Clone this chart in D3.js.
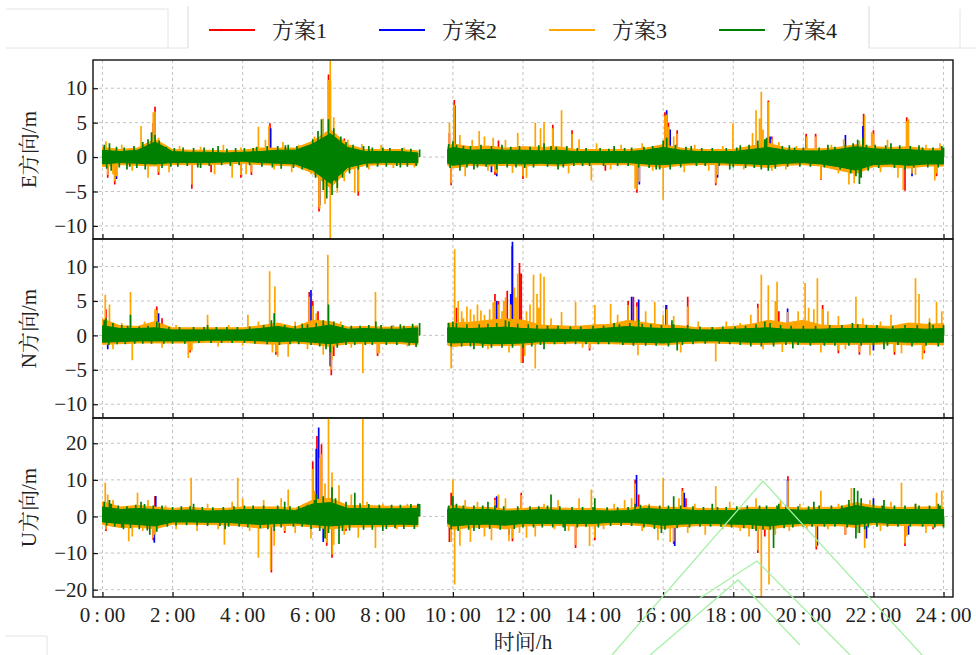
<!DOCTYPE html>
<html>
<head>
<meta charset="utf-8">
<script src="https://cdn.jsdelivr.net/npm/d3@7"></script>
<style>
body { margin: 0; background: #fff; }
svg text { font-family: "Liberation Serif", "Noto Serif CJK SC", "Noto Sans CJK SC", serif; fill: #222; }
</style>
</head>
<body>
<svg id="chart" width="976" height="655"></svg>
<script>

// ---- data ----
var schemes = ["方案1", "方案2", "方案3", "方案4"];
var hourTicks = [0, 2, 4, 6, 8, 10, 12, 14, 16, 18, 20, 22, 24];
var hourLabels = ["0:00", "2:00", "4:00", "6:00", "8:00", "10:00", "12:00", "14:00", "16:00", "18:00", "20:00", "22:00", "24:00"];

// core envelope of each dense series, every half hour (no data 9.0 - 9.85 h)
var bandT = [0, 0.5, 1, 1.5, 2, 2.5, 3, 3.5, 4, 4.5, 5, 5.5, 6, 6.5, 7, 7.5, 8, 8.5, 9,
    9.85, 10, 10.5, 11, 11.5, 12, 12.5, 13, 13.5, 14, 14.5, 15, 15.5, 16, 16.5, 17, 17.5, 18, 18.5, 19, 19.5, 20, 20.5, 21, 21.5, 22, 22.5, 23, 23.5, 24];

// E
var eGreenHi = [1.0, 0.8, 1.0, 2.2, 0.8, 0.7, 0.7, 0.6, 0.7, 0.8, 1.0, 1.0, 1.9, 3.4, 1.4, 0.8, 0.8, 0.8, 0.6,
    1.1, 1.4, 1.0, 1.1, 1.0, 1.0, 0.9, 1.0, 0.8, 0.8, 0.8, 0.8, 1.0, 1.4, 1.0, 0.8, 0.8, 0.8, 1.1, 1.4, 1.0, 0.9, 0.9, 1.1, 1.5, 1.2, 1.1, 1.1, 0.9, 0.9];
var eGreenLo = [-1.0, -0.8, -0.9, -1.0, -0.8, -0.8, -0.8, -0.7, -0.6, -0.8, -0.9, -1.0, -1.9, -3.8, -1.5, -0.9, -0.8, -0.8, -0.8,
    -0.9, -1.2, -0.9, -1.0, -0.9, -1.0, -0.9, -1.0, -0.8, -0.8, -0.8, -0.8, -1.0, -1.1, -0.9, -0.8, -0.8, -0.9, -1.0, -1.1, -0.9, -0.8, -1.0, -1.4, -1.9, -1.1, -1.0, -1.2, -1.0, -1.0];
var eOrangeHi = [1.4, 1.1, 1.3, 2.6, 1.1, 1.0, 1.0, 0.9, 1.0, 1.3, 1.3, 1.3, 2.3, 4.0, 1.8, 1.1, 1.1, 1.1, 0.9,
    1.5, 1.9, 1.5, 1.6, 1.3, 1.5, 1.4, 1.5, 1.1, 1.1, 1.1, 1.1, 1.3, 1.8, 1.3, 1.1, 1.1, 1.1, 1.6, 2.0, 1.3, 1.2, 1.2, 1.4, 1.8, 1.5, 1.4, 1.5, 1.2, 1.2];
var eOrangeLo = [-1.4, -1.1, -1.2, -1.3, -1.1, -1.1, -1.1, -1.0, -0.9, -1.1, -1.2, -1.3, -2.3, -4.5, -1.9, -1.2, -1.1, -1.1, -1.1,
    -1.2, -1.6, -1.2, -1.3, -1.2, -1.3, -1.2, -1.3, -1.1, -1.1, -1.1, -1.1, -1.3, -1.5, -1.2, -1.1, -1.1, -1.2, -1.3, -1.5, -1.2, -1.1, -1.3, -1.9, -2.4, -1.4, -1.4, -1.6, -1.3, -1.3];
// single excursions [hour, value]
var eSpikes1 = [[0.15, -3.0], [0.35, -4.0], [1.5, 7.3], [1.45, 5.0], [1.6, -2.6], [2.55, -4.6], [3.1, -2.2], [3.95, -3.0], [4.78, 4.9], [4.25, -2.6],
    [6.18, -7.9], [6.45, 12], [6.65, 3.4], [6.9, 2.7], [7.3, -5.6], [9.9, 3.5], [10.04, 8.3], [9.95, -4.1], [11.2, -2.6], [11.3, 2.4],
    [12.85, 4.7], [12.0, -3.2], [13.4, 3.9], [14.35, -2.0], [15.25, -5.2], [16.05, 6.5], [16.15, 5.0], [16.4, 3.9], [17.5, -4.1], [19.0, 8.2],
    [19.1, 3.0], [20.08, 3.4], [20.35, 3.4], [20.5, -3.3], [21.72, 6.3], [22.0, 3.9], [22.9, -4.9], [22.95, 5.8], [23.8, -2.8]];
var eSpikes2 = [[1.48, 6.2], [0.4, -3.2], [4.8, 4.2], [6.2, -7.0], [6.5, 11], [10.06, 7.5], [11.25, -2.8], [11.1, -2.2], [15.32, -4.0], [16.1, 6.8],
    [16.2, 4.0], [19.05, 3.0], [21.2, 3.2], [21.7, 4.5], [23.1, -2.8], [17.55, -3.0]];
var eSpikes3 = [[0.1, 2.3], [0.3, -2.5], [0.55, 1.8], [0.85, -2.0], [1.1, 4.5], [1.3, -3.0], [1.45, 6.5], [1.6, 2.8], [1.9, -2.2], [2.2, 1.6],
    [2.55, -4.0], [2.8, 1.5], [3.2, -2.5], [3.45, 1.8], [3.7, -3.0], [3.95, 1.4], [4.1, -2.5], [4.45, 4.4], [4.65, 2.5], [4.75, 4.6],
    [4.9, -1.8], [5.15, 2.2], [5.4, -2.2], [5.6, 1.8], [5.95, -2.5], [6.05, 3.0], [6.2, -7.5], [6.3, 5.6], [6.35, -6.8], [6.5, 14],
    [6.5, -12], [6.6, 5.8], [6.7, -5.2], [6.75, 2.8], [6.9, -3.5], [7.0, 2.5], [7.2, -5.2], [7.4, 1.9], [7.6, -1.8], [7.95, 1.8],
    [8.3, -1.6], [8.6, 1.4], [8.9, -1.5],
    [9.9, 5.0], [9.95, -3.8], [10.05, 7.5], [10.2, 3.2], [10.35, -2.8], [10.55, 2.5], [10.75, 3.8], [10.9, 3.0], [11.0, -2.0], [11.15, 2.8],
    [11.5, 2.5], [11.7, -2.3], [11.85, 3.5], [12.1, -3.0], [12.35, 5.0], [12.5, 4.2], [12.6, 5.1], [12.85, 3.5], [13.1, 6.8], [13.3, -2.4],
    [13.6, 2.6], [13.95, -3.4], [14.1, 2.0], [14.5, -1.8], [14.8, 1.8], [15.2, -4.6], [15.4, 2.0], [15.7, -2.0], [16.0, -6.2], [16.05, 4.0],
    [16.3, 3.0], [16.6, -2.2], [16.9, 1.8], [17.3, -2.0], [17.5, -3.8], [17.7, 1.6], [17.99, 4.9], [18.3, -1.8], [18.55, 3.5], [18.65, 6.8],
    [18.75, 5.6], [18.8, 9.5], [18.85, 4.0], [19.0, 8.0], [19.1, -2.0], [19.3, 2.2], [19.5, -1.8], [19.8, 1.6], [20.1, 3.0], [20.35, 2.5],
    [20.5, -3.2], [20.8, 1.8], [21.0, -2.4], [21.15, 2.6], [21.3, -4.0], [21.45, -3.8], [21.6, 2.4], [21.75, 6.0], [21.95, 3.6], [22.2, -2.2],
    [22.4, 2.5], [22.7, -3.0], [22.85, -4.8], [23.0, 5.5], [23.2, -2.6], [23.5, 1.8], [23.75, -3.4], [23.9, 2.0],
    [1.5, 6.6], [6.18, -7.2], [6.45, 11.2], [7.3, -5.0], [10.04, 7.6], [12.85, 4.2], [15.25, -4.7], [16.05, 6.0], [16.15, 4.4], [22.95, 5.2],
    [16.4, 3.4], [13.4, 3.4], [22.0, 3.4], [0.4, -2.8], [11.25, -2.4], [15.32, -3.6], [16.1, 6.2], [23.1, -2.4], [17.55, -2.6], [0.15, -2.6],
    [0.35, -3.5], [1.6, -2.2], [3.95, -2.6], [4.25, -2.2], [11.2, -2.2], [12.0, -2.8], [20.5, -2.9], [23.8, -2.4], [6.65, 3.0], [6.9, 2.4],
    [9.9, 3.1], [19.1, 2.6], [20.35, 3.0]];
var eSpikes4 = [[0.2, 2.0], [0.7, -1.8], [1.4, 3.6], [1.5, 3.2], [2.8, -1.6], [3.3, 1.6], [4.4, 1.5], [5.3, 1.8], [5.7, -1.8], [6.25, 5.5],
    [6.4, -6.0], [6.6, 4.2], [6.7, -4.5], [7.6, 1.6], [8.5, -1.5], [10.0, 2.3], [10.6, -1.8], [11.4, 1.8], [12.6, 2.0], [13.0, -1.8],
    [14.6, 1.6], [15.8, -1.8], [16.1, 2.8], [16.8, 1.6], [17.9, -1.8], [18.2, 1.7], [18.95, 2.8], [19.0, -2.0], [19.6, 1.7], [20.7, 1.8],
    [21.6, -3.9], [21.55, 2.5], [21.7, 2.8], [22.5, 2.0], [23.3, 1.7], [23.95, 1.6],
    [0.05, 1.8], [0.12, -1.7], [0.25, -2.0], [0.4, 1.5], [0.48, -1.5], [0.62, 1.4], [0.78, -1.4], [0.9, 1.6], [0.98, -1.6], [1.15, 2.2],
    [1.22, -1.8], [1.3, 2.6], [1.62, 2.4], [1.7, -1.6], [1.82, 1.5], [1.95, -1.4], [2.05, 1.3], [2.15, -1.4], [2.3, 1.4], [2.42, -1.3],
    [2.6, 1.3], [2.72, -1.5], [2.9, 1.4], [3.05, -1.3], [3.15, 1.3], [3.4, -1.2], [3.55, 1.2], [3.65, -1.3], [3.8, 1.3], [3.9, -1.2],
    [4.05, 1.3], [4.2, -1.2], [4.3, 1.3], [4.55, -1.4], [4.7, 1.6], [4.85, -1.5], [5.0, 1.6], [5.1, -1.7], [5.22, 1.7], [5.45, -1.6],
    [5.55, 1.6], [5.8, 1.5], [5.9, -1.8], [6.0, 2.6], [6.08, -3.0], [6.15, 3.8], [6.3, -4.8], [6.45, 5.5], [6.55, -5.5], [6.65, -3.5],
    [6.8, 3.0], [6.85, -3.0], [6.95, 2.2], [7.05, -2.4], [7.15, 1.8], [7.3, -1.8], [7.45, 1.6], [7.55, -1.5], [7.7, 1.4], [7.85, -1.4],
    [8.0, 1.4], [8.1, -1.4], [8.2, 1.3], [8.4, -1.3], [8.55, 1.3], [8.7, -1.4], [8.8, 1.2], [8.95, -1.3], [9.05, 1.1],
    [9.88, 1.9], [9.92, -1.6], [10.1, 1.8], [10.2, -2.0], [10.3, 1.6], [10.4, -1.5], [10.5, 1.6], [10.7, -1.5], [10.8, 1.8], [10.95, -1.4],
    [11.1, 1.6], [11.25, -1.8], [11.55, -1.5], [11.65, 1.5], [11.8, -1.5], [11.9, 1.6], [12.05, -1.6], [12.2, 1.5], [12.3, -1.5], [12.45, 1.7],
    [12.7, -1.4], [12.8, 1.6], [12.95, 1.5], [13.15, -1.5], [13.25, 1.6], [13.45, -1.3], [13.55, 1.3], [13.7, -1.3], [13.8, 1.3], [13.9, -1.3],
    [14.2, 1.3], [14.3, -1.3], [14.45, 1.2], [14.7, -1.3], [14.9, 1.3], [15.0, -1.3], [15.1, 1.4], [15.3, -1.5], [15.45, 1.5], [15.6, -1.6],
    [15.7, 1.6], [15.9, -1.8], [16.0, 2.4], [16.2, -1.8], [16.35, 1.8], [16.5, -1.5], [16.65, 1.5], [16.95, -1.3], [17.1, 1.3], [17.2, -1.3],
    [17.4, 1.3], [17.6, -1.3], [17.8, 1.3], [18.0, -1.5], [18.1, 1.4], [18.35, -1.6], [18.45, 1.8], [18.6, -1.6], [18.7, 2.4], [18.8, -1.8],
    [18.9, 2.6], [19.2, -1.7], [19.4, 1.6], [19.55, -1.4], [19.75, 1.4], [19.9, -1.4], [20.0, 1.4], [20.2, -1.4], [20.45, 1.4], [20.6, -1.5],
    [20.9, 1.5], [21.05, -1.8], [21.2, 1.8], [21.35, -2.4], [21.42, 2.0], [21.5, -2.8], [21.65, -3.0], [21.8, 1.8], [21.85, -2.0], [22.05, 1.8],
    [22.15, -1.6], [22.35, 1.7], [22.6, -1.6], [22.75, 1.7], [22.9, -1.8], [23.05, 1.6], [23.15, -1.5], [23.4, 1.4], [23.55, -1.5], [23.7, 1.4],
    [23.85, -1.5], [24.0, 1.4]];

// N
var nGreenHi = [1.4, 1.0, 1.0, 1.1, 0.8, 0.8, 0.8, 0.8, 0.8, 1.0, 1.3, 0.9, 1.1, 1.5, 0.9, 1.0, 0.9, 0.9, 1.1,
    1.1, 1.1, 1.0, 1.1, 1.2, 1.0, 0.9, 0.9, 0.8, 0.9, 1.1, 1.3, 1.1, 1.0, 1.0, 0.8, 0.8, 0.9, 1.0, 1.1, 0.9, 0.9, 0.9, 1.0, 1.0, 1.0, 0.9, 1.0, 0.9, 1.0];
var nGreenLo = [-1.0, -0.9, -0.8, -0.8, -0.8, -0.8, -0.7, -0.7, -0.7, -0.8, -0.9, -0.8, -1.0, -1.2, -0.9, -0.9, -0.9, -0.9, -1.1,
    -1.0, -1.1, -1.0, -1.2, -1.2, -1.1, -0.9, -0.9, -0.8, -0.9, -0.9, -1.0, -1.0, -1.1, -0.9, -0.8, -0.8, -0.9, -1.0, -1.0, -0.9, -1.0, -1.0, -1.0, -1.0, -1.0, -0.9, -1.0, -1.0, -1.0];
var nOrangeHi = [2.4, 1.4, 1.3, 2.0, 1.1, 1.1, 1.1, 1.1, 1.1, 1.4, 1.8, 1.2, 2.2, 2.0, 1.2, 1.3, 1.2, 1.2, 1.4,
    1.8, 1.8, 1.9, 2.2, 2.4, 2.2, 1.5, 1.4, 1.3, 1.5, 1.6, 2.2, 1.8, 1.5, 1.4, 1.1, 1.1, 1.3, 1.6, 2.2, 1.8, 2.2, 1.5, 1.4, 1.6, 1.4, 1.3, 1.8, 1.6, 1.7];
var nOrangeLo = [-1.3, -1.2, -1.1, -1.1, -1.1, -1.1, -1.0, -1.0, -1.0, -1.2, -1.3, -1.1, -1.3, -1.6, -1.2, -1.2, -1.2, -1.2, -1.4,
    -1.4, -1.6, -1.4, -1.5, -1.5, -1.4, -1.2, -1.2, -1.1, -1.2, -1.2, -1.3, -1.3, -1.4, -1.2, -1.1, -1.1, -1.2, -1.3, -1.3, -1.2, -1.3, -1.3, -1.3, -1.3, -1.3, -1.2, -1.4, -1.3, -1.4];
var nSpikes1 = [[0.1, 3.8], [1.55, 4.2], [1.7, 2.5], [2.5, -2.5], [4.95, -2.8], [5.9, 6.3], [6.0, 5.0], [6.15, 3.5], [6.53, -5.8], [6.6, -3.0],
    [7.85, -3.0], [10.1, 4.0], [11.2, 6.0], [11.3, 5.0], [11.55, 6.5], [11.69, 13.0], [11.75, 6.8], [11.9, 10.5], [11.95, 9.0], [12.0, -4.0],
    [15.0, 5.0], [15.15, 5.6], [15.25, 4.8], [16.1, 4.4], [16.7, 5.6], [18.7, 4.6], [19.3, 3.5], [20.55, 4.4], [21.0, -2.6], [21.6, -2.8],
    [22.6, -2.8], [23.45, -2.6], [13.9, -2.2]];
var nSpikes2 = [[1.6, 3.2], [5.95, 6.6], [6.5, -4.5], [11.25, 5.0], [11.7, 13.6], [11.65, 6.0], [15.1, 5.6], [15.3, 5.2], [16.08, 4.4], [19.55, 3.9],
    [22.0, -2.2], [0.15, -2.0]];
var nSpikes3 = [[0.08, 5.9], [0.2, 4.5], [0.3, -2.0], [0.55, 1.8], [0.8, 6.3], [0.85, -3.6], [1.2, 2.0], [1.5, 3.8], [1.7, -1.8], [2.1, 1.5],
    [2.45, -3.3], [2.55, -2.2], [3.0, 3.0], [3.3, -1.6], [3.6, 1.5], [4.0, -1.5], [4.15, 3.0], [4.45, 2.0], [4.77, 9.3], [4.85, -2.5],
    [4.92, 7.1], [5.0, -3.1], [5.3, -3.1], [5.5, 2.0], [5.7, 1.8], [5.85, -2.0], [6.1, 3.2], [6.3, -2.8], [6.43, 11.7], [6.55, -3.5],
    [6.8, 2.0], [7.1, -1.8], [7.43, -5.5], [7.79, 6.3], [7.9, -2.6], [8.3, 1.5], [8.7, -1.6],
    [9.95, -4.8], [10.05, 12.5], [10.15, 5.0], [10.3, 2.5], [10.5, 3.8], [10.7, 4.5], [10.9, 3.0], [11.0, -2.0], [11.3, 4.5], [11.5, 5.5],
    [11.6, -2.5], [11.75, 7.0], [11.85, 9.0], [11.95, -4.0], [12.05, -3.0], [12.3, 8.8], [12.35, -4.8], [12.5, 9.0], [12.6, 8.5], [12.8, 2.5],
    [13.1, 3.4], [13.5, 4.9], [13.7, -1.8], [14.05, 4.4], [14.5, 4.6], [14.7, 3.0], [15.0, 4.0], [15.28, -2.9], [15.5, 3.5], [15.76, 4.9],
    [16.0, 3.0], [16.3, 2.8], [16.5, -2.5], [16.7, 4.2], [17.0, 2.0], [17.5, -3.8], [17.8, 2.0], [18.2, 1.8], [18.5, 3.0], [18.8, 8.8],
    [18.85, -2.0], [19.0, 7.3], [19.2, 5.0], [19.25, 7.8], [19.4, -2.4], [19.85, 3.5], [20.05, 7.6], [20.15, 4.0], [20.3, 3.8], [20.4, 8.3],
    [20.5, -2.5], [20.7, 3.5], [21.0, 2.8], [21.2, -2.0], [21.5, 5.6], [21.7, 2.5], [21.9, -2.9], [22.2, 2.0], [22.5, 3.0], [22.8, -2.6],
    [23.2, 8.3], [23.3, 6.0], [23.4, -3.5], [23.6, 2.5], [23.8, 4.9], [23.95, 3.5],
    [1.55, 3.7], [5.9, 5.6], [6.0, 4.3], [6.53, -5.0], [11.2, 5.0], [18.7, 4.0], [20.55, 3.8], [19.55, 3.4], [10.25, 3.5], [10.4, 4.2],
    [10.6, 3.0], [10.8, 3.6], [11.05, 3.8], [11.15, 4.8], [11.4, 3.5], [11.45, 5.0], [11.65, 4.5], [11.8, 5.5], [12.1, 3.5], [12.2, 4.5],
    [12.4, 6.0], [12.45, 4.0], [2.5, -2.2], [4.95, -2.4], [7.85, -2.6], [21.0, -2.2], [21.6, -2.4], [22.6, -2.4], [23.45, -2.2], [13.9, -1.9],
    [16.1, 3.8], [15.0, 4.4], [15.25, 4.2]];
var nSpikes4 = [[0.1, 2.5], [0.8, 3.0], [1.55, 2.0], [3.0, 1.5], [4.9, 3.2], [5.7, 1.6], [6.45, 4.5], [6.5, -2.5], [7.8, 2.0], [8.5, 1.6],
    [10.0, 2.0], [10.6, -2.0], [11.5, 2.2], [12.6, -2.0], [14.6, 1.8], [15.3, 2.3], [16.3, 1.6], [16.4, -2.2], [18.9, 2.0], [19.7, -1.9],
    [21.4, 1.8], [22.3, -2.0], [23.6, 1.9],
    [0.05, 2.2], [0.18, -1.4], [0.3, 1.8], [0.42, -1.3], [0.55, 1.5], [0.65, -1.3], [0.72, 1.4], [0.92, -1.2], [1.05, 1.3], [1.15, -1.2],
    [1.3, 1.4], [1.4, -1.2], [1.62, 1.8], [1.75, -1.2], [1.9, 1.2], [2.0, -1.2], [2.2, 1.2], [2.35, -1.2], [2.6, 1.2], [2.75, -1.1],
    [2.9, 1.2], [3.1, -1.1], [3.25, 1.2], [3.4, -1.1], [3.55, 1.2], [3.7, -1.1], [3.85, 1.2], [4.05, -1.1], [4.2, 1.3], [4.35, -1.2],
    [4.6, 1.5], [4.7, -1.3], [4.82, 2.2], [5.05, -1.4], [5.2, 1.5], [5.35, -1.3], [5.5, 1.4], [5.6, -1.3], [5.85, 1.6], [5.95, -1.4],
    [6.1, 1.8], [6.2, -1.6], [6.3, 2.2], [6.38, -2.0], [6.6, 2.0], [6.7, -1.8], [6.85, 1.5], [6.95, -1.4], [7.1, 1.4], [7.2, -1.4],
    [7.35, 1.4], [7.5, -1.4], [7.6, 1.5], [7.7, -1.4], [7.95, 1.5], [8.1, -1.4], [8.25, 1.4], [8.4, -1.4], [8.6, 1.4], [8.75, -1.5],
    [8.85, 1.7], [8.95, -1.7], [9.05, 1.8],
    [9.88, 1.8], [9.95, -1.6], [10.1, 1.8], [10.25, -1.6], [10.4, 1.6], [10.5, -1.6], [10.75, 1.6], [10.85, -1.8], [11.0, 1.7], [11.1, -1.8],
    [11.25, 1.8], [11.4, -1.8], [11.6, 2.0], [11.7, -1.8], [11.85, 1.7], [12.0, -1.8], [12.15, 1.6], [12.25, -1.6], [12.4, 1.5], [12.5, -1.4],
    [12.7, 1.4], [12.9, -1.3], [13.0, 1.4], [13.2, -1.3], [13.35, 1.3], [13.5, -1.3], [13.65, 1.3], [13.8, -1.3], [14.0, 1.4], [14.15, -1.3],
    [14.3, 1.4], [14.45, -1.3], [14.75, 1.6], [14.85, -1.4], [15.05, 1.8], [15.15, -1.5], [15.4, 1.7], [15.5, -1.5], [15.65, 1.6], [15.8, -1.5],
    [15.95, 1.5], [16.15, -1.6], [16.25, 2.2], [16.55, -1.4], [16.7, 1.5], [16.85, -1.3], [17.05, 1.3], [17.2, -1.2], [17.4, 1.2], [17.6, -1.2],
    [17.7, 1.3], [17.9, -1.3], [18.05, 1.3], [18.2, -1.4], [18.35, 1.4], [18.5, -1.6], [18.65, 1.6], [18.8, -1.6], [19.05, 1.8], [19.15, -1.6],
    [19.35, 1.5], [19.5, -1.4], [19.65, 1.4], [19.85, -1.4], [20.0, 1.4], [20.2, -1.5], [20.35, 1.4], [20.6, -1.5], [20.75, 1.5], [20.9, -1.5],
    [21.1, 1.5], [21.3, -1.5], [21.55, 1.6], [21.65, -1.5], [21.8, 1.5], [22.0, -1.5], [22.1, 1.5], [22.4, -1.5], [22.55, 1.4], [22.7, -1.4],
    [22.9, 1.5], [23.1, -1.6], [23.25, 1.5], [23.5, -1.5], [23.7, 1.5], [23.85, -1.6], [24.0, 1.5]];

// U
var uGreenHi = [2.6, 1.9, 2.2, 1.9, 1.6, 1.8, 1.5, 1.6, 1.9, 1.9, 1.9, 1.6, 3.4, 3.8, 2.2, 2.2, 2.1, 2.1, 2.2,
    1.9, 2.2, 1.9, 1.9, 1.5, 1.6, 1.9, 1.7, 1.6, 1.6, 1.5, 1.6, 2.2, 1.9, 1.9, 1.6, 1.6, 1.6, 1.9, 1.9, 1.9, 1.7, 1.9, 1.9, 3.0, 2.2, 1.9, 1.9, 1.9, 1.9];
var uGreenLo = [-1.5, -1.9, -2.2, -2.6, -1.5, -1.5, -1.6, -1.6, -1.9, -2.2, -1.9, -1.8, -2.2, -2.6, -2.2, -2.2, -2.2, -2.1, -2.2,
    -1.9, -2.6, -2.2, -2.1, -2.4, -1.9, -1.9, -1.9, -1.9, -1.9, -1.6, -1.6, -1.9, -2.4, -2.1, -1.9, -1.9, -2.1, -2.2, -2.6, -2.1, -1.9, -1.9, -1.9, -2.2, -1.6, -1.9, -1.9, -1.9, -1.9];
var uOrangeHi = [4.0, 2.6, 3.0, 2.6, 2.2, 2.5, 2.1, 2.2, 2.6, 2.6, 2.6, 2.2, 4.5, 5.0, 3.0, 3.0, 2.8, 2.8, 2.9,
    2.6, 3.0, 2.5, 2.5, 2.0, 2.2, 2.5, 2.3, 2.2, 2.2, 2.0, 2.2, 2.9, 2.5, 2.5, 2.2, 2.2, 2.2, 2.5, 2.5, 2.5, 2.3, 2.5, 2.5, 3.8, 2.9, 2.5, 2.5, 2.6, 2.6];
var uOrangeLo = [-2.2, -3.0, -2.9, -3.4, -2.1, -2.1, -2.2, -2.3, -2.6, -3.2, -2.6, -2.4, -2.9, -3.4, -2.9, -2.9, -2.8, -2.7, -2.8,
    -2.7, -3.5, -3.0, -2.9, -3.4, -2.6, -2.5, -2.5, -2.6, -2.6, -2.2, -2.2, -2.6, -3.3, -2.8, -2.5, -2.5, -2.8, -3.2, -3.5, -2.8, -2.5, -2.6, -2.5, -3.0, -2.2, -2.5, -2.5, -2.6, -2.5];
var uSpikes1 = [[0.1, -4.0], [0.4, -2.5], [1.45, -6.5], [1.5, 5.5], [4.82, -15.3], [5.2, -4.5], [6.0, 15.0], [6.12, 22.0], [6.25, 19.7], [6.4, -8.0],
    [6.55, -11.3], [6.95, -4.0], [9.9, -7.0], [9.95, 6.5], [11.2, 5.1], [11.7, -6.8], [11.95, 6.5], [13.5, -8.6], [14.05, -6.5], [15.2, 10.0],
    [15.3, 6.0], [16.3, -7.5], [16.55, 7.8], [16.65, 5.0], [18.7, -10.0], [18.9, -5.5], [19.56, 11.0], [20.37, -9.0], [21.2, -5.0], [22.9, -8.1],
    [23.7, -3.5]];
var uSpikes2 = [[1.48, -7.2], [1.52, 5.6], [6.17, 24.3], [6.1, 18.5], [6.3, -7.0], [11.25, 5.5], [11.6, -5.0], [15.24, 11.3], [16.33, -8.1], [16.6, 6.5],
    [19.55, 10.0], [20.4, -8.0], [21.8, -6.0], [22.0, 5.0], [23.0, -5.0]];
var uSpikes3 = [[0.08, 9.2], [0.15, 6.0], [0.3, 4.5], [0.5, -3.0], [0.75, -6.8], [0.85, -5.5], [1.0, 6.5], [1.15, -4.0], [1.3, 4.5], [1.5, -5.0],
    [1.8, 3.0], [2.1, -3.5], [2.53, 10.6], [2.7, -4.0], [3.0, 3.5], [3.3, -3.5], [3.48, -7.7], [3.7, 4.0], [3.86, 10.6], [4.0, 5.0],
    [4.2, -4.0], [4.45, -11.3], [4.6, 4.5], [4.8, -14.6], [4.9, -8.0], [5.1, 5.0], [5.3, 7.4], [5.5, -4.5], [5.75, 3.5], [5.95, -6.0],
    [6.05, 7.0], [6.2, 16.0], [6.35, 9.0], [6.45, 27], [6.55, 12.0], [6.6, -7.7], [6.75, 8.5], [6.9, -5.0], [7.1, 6.0], [7.3, -5.8],
    [7.43, 27], [7.55, 4.0], [7.79, -8.6], [8.0, 3.5], [8.4, -3.5], [8.7, 3.5],
    [9.95, -7.0], [10.0, 10.1], [10.05, -18.6], [10.2, -8.0], [10.35, 4.5], [10.5, -7.0], [10.7, 4.0], [10.9, -5.5], [11.1, -6.5], [11.3, 6.0],
    [11.5, 5.0], [11.6, -6.8], [11.9, -4.5], [12.1, -5.8], [12.35, -5.5], [12.6, 3.5], [12.9, -3.5], [13.0, 4.5], [13.3, -4.0], [13.6, 5.0],
    [13.9, -8.1], [13.95, 7.4], [14.3, -3.5], [14.6, 3.5], [14.9, 4.5], [15.1, 5.0], [15.4, -4.0], [15.6, 3.5], [15.85, -6.5], [16.0, 10.6],
    [16.2, -7.0], [16.45, 5.0], [16.7, -4.5], [16.9, 3.5], [17.2, -5.0], [17.5, 8.3], [17.7, -3.5], [17.9, 4.0], [18.2, -4.0], [18.45, -5.5],
    [18.65, 5.0], [18.8, -22], [19.02, -18.6], [19.2, -5.0], [19.35, 4.5], [19.6, -4.0], [19.9, 3.5], [20.1, -3.5], [20.5, 7.0], [20.7, -3.5],
    [21.0, 3.5], [21.2, -5.0], [21.37, 7.8], [21.55, -4.5], [21.75, -8.6], [21.9, 4.5], [22.2, -4.0], [22.5, 4.0], [22.8, 9.2], [22.95, -5.5],
    [23.2, 3.5], [23.5, -4.5], [23.8, 6.5], [23.95, 7.0],
    [1.45, -5.8], [6.56, -10.4], [13.5, -7.8], [14.05, -5.8], [15.2, 9.0], [16.3, -6.8], [16.55, 7.0], [18.7, -9.2], [19.56, 9.8], [20.37, -8.2],
    [22.9, -7.4], [0.1, -3.5], [5.2, -4.0], [6.4, -7.2], [6.95, -3.5], [11.2, 4.5], [11.7, -6.0], [11.95, 5.8], [21.2, -4.4], [23.7, -3.0],
    [6.0, 13.0], [6.25, 17.0]];
var uSpikes4 = [[0.2, 4.5], [0.6, -3.5], [1.1, 4.0], [1.35, -5.0], [2.6, 3.5], [3.5, -3.5], [4.9, -4.0], [5.2, 4.0], [6.1, 6.0], [6.35, -6.0],
    [6.55, 8.0], [6.75, -7.5], [7.2, 6.5], [8.0, -4.0], [9.0, 3.5], [10.0, 5.5], [10.6, -4.0], [11.0, 4.0], [12.8, 6.0], [13.2, -4.0],
    [14.05, 5.0], [15.2, 3.5], [15.95, -4.5], [16.3, 5.5], [17.4, 3.5], [18.65, -4.0], [19.15, -8.6], [19.3, 3.5], [20.3, 4.0], [21.45, 7.8],
    [21.5, -6.0], [21.55, 7.0], [21.75, -3.5], [22.3, 4.5], [23.2, 3.5], [23.85, 3.5],
    [0.05, 4.0], [0.12, -2.5], [0.25, 3.5], [0.35, -2.8], [0.45, 3.0], [0.55, -3.0], [0.7, 2.8], [0.8, -3.2], [0.95, 3.2], [1.05, -3.5],
    [1.2, 3.4], [1.28, -3.8], [1.45, 3.0], [1.55, -4.2], [1.7, 3.0], [1.85, -2.8], [2.0, 2.6], [2.1, -2.5], [2.25, 2.8], [2.4, -2.4],
    [2.5, 2.8], [2.7, -2.5], [2.85, 2.6], [3.0, -2.6], [3.15, 2.5], [3.35, -2.6], [3.45, 2.6], [3.6, -2.8], [3.75, 2.8], [3.9, -2.8],
    [4.05, 3.0], [4.15, -3.0], [4.3, 3.0], [4.5, -3.2], [4.6, 3.0], [4.72, -3.5], [5.0, 3.0], [5.1, -3.0], [5.35, 2.8], [5.45, -2.8],
    [5.6, 2.8], [5.7, -2.8], [5.85, 3.2], [5.95, -3.4], [6.05, 4.5], [6.2, -4.0], [6.3, 5.5], [6.45, -4.5], [6.65, 5.0], [6.85, -4.0],
    [6.95, 4.0], [7.05, -3.8], [7.35, 3.6], [7.45, -3.6], [7.6, 3.4], [7.7, -3.6], [7.9, 3.2], [8.1, -3.4], [8.25, 3.2], [8.35, -3.2],
    [8.5, 3.2], [8.6, -3.4], [8.8, 3.4], [8.9, -3.4], [9.05, 3.4],
    [9.88, 3.0], [9.95, -3.5], [10.1, 3.5], [10.15, -4.0], [10.3, 3.0], [10.45, -3.6], [10.6, 3.0], [10.75, -3.4], [10.85, 3.0], [11.05, -3.4],
    [11.2, 3.0], [11.35, -3.6], [11.45, 2.8], [11.75, -3.4], [11.85, 2.8], [12.0, -3.0], [12.2, 2.8], [12.3, -3.0], [12.45, 2.8], [12.55, -3.0],
    [12.7, 3.0], [12.85, -3.0], [13.05, 2.8], [13.15, -3.0], [13.4, 2.6], [13.55, -3.0], [13.7, 2.6], [13.8, -2.8], [14.0, 2.6], [14.15, -3.0],
    [14.4, 2.5], [14.5, -2.6], [14.7, 2.5], [14.8, -2.6], [15.0, 2.6], [15.1, -2.6], [15.35, 3.2], [15.45, -3.0], [15.6, 3.0], [15.75, -3.4],
    [15.9, 3.0], [16.05, -3.6], [16.15, 3.0], [16.4, -3.2], [16.5, 3.0], [16.75, -3.0], [16.85, 2.8], [17.05, -2.8], [17.15, 2.6], [17.35, -2.8],
    [17.55, 2.6], [17.65, -2.8], [17.8, 2.6], [17.95, -3.0], [18.1, 2.8], [18.3, -3.2], [18.4, 3.0], [18.55, -3.4], [18.75, 3.0], [18.85, -3.6],
    [18.95, 3.0], [19.05, -3.6], [19.25, 3.0], [19.45, -3.2], [19.5, 3.0], [19.7, -3.0], [19.85, 2.8], [20.0, -2.8], [20.15, 2.8], [20.25, -2.8],
    [20.45, 3.0], [20.6, -2.8], [20.8, 3.0], [20.9, -2.8], [21.1, 3.0], [21.25, -3.0], [21.3, 4.5], [21.6, -4.5], [21.65, 5.0], [21.85, -3.0],
    [22.0, 3.4], [22.1, -2.8], [22.25, 3.0], [22.4, -2.8], [22.6, 3.0], [22.7, -2.8], [22.9, 3.0], [23.05, -2.8], [23.3, 3.0], [23.4, -2.8],
    [23.6, 3.0], [23.75, -3.0], [23.9, 3.0], [24.0, -3.0]];

// ---- layout ----
var colors = ["#ff0000", "#0000ff", "#ffa500", "#008000"];
var left = 93, right = 953;

var panels = [
    { label: "E方向/m", top: 60, bottom: 239, domain: [-11.9, 14.1], ticks: [-10, -5, 0, 5, 10],
      series: [{ spikes: eSpikes1 }, { spikes: eSpikes2 }, { hi: eOrangeHi, lo: eOrangeLo, spikes: eSpikes3 }, { hi: eGreenHi, lo: eGreenLo, spikes: eSpikes4 }] },
    { label: "N方向/m", top: 239, bottom: 418, domain: [-12, 14], ticks: [-10, -5, 0, 5, 10],
      series: [{ spikes: nSpikes1 }, { spikes: nSpikes2 }, { hi: nOrangeHi, lo: nOrangeLo, spikes: nSpikes3 }, { hi: nGreenHi, lo: nGreenLo, spikes: nSpikes4 }] },
    { label: "U方向/m", top: 418, bottom: 597, domain: [-22, 26.9], ticks: [-20, -10, 0, 10, 20],
      series: [{ spikes: uSpikes1 }, { spikes: uSpikes2 }, { hi: uOrangeHi, lo: uOrangeLo, spikes: uSpikes3 }, { hi: uGreenHi, lo: uGreenLo, spikes: uSpikes4 }] }
];

var svg = d3.select("#chart");
var x = d3.scaleLinear().domain([-0.27, 24.27]).range([left, right]);

// faint page artefacts around the legend
var deco = svg.append("g").attr("fill", "none").attr("stroke", "#e4e4e4").attr("stroke-width", 1);
deco.append("path").attr("d", "M6,9H168V48M6,48H188M869,48H976M960,9V48");
deco.append("path").attr("d", "M188,6V48M869,6V48").attr("stroke", "#d8d8d8");
deco.append("path").attr("d", "M5,636H47V655");

panels.forEach(function (p, pi) {
    var y = d3.scaleLinear().domain(p.domain).range([p.bottom, p.top]);
    var g = svg.append("g");

    // grid
    var grid = g.append("g").attr("stroke", "#b4b4b4").attr("stroke-width", 0.8).attr("stroke-dasharray", "3,3");
    grid.selectAll("line.v").data(hourTicks).enter().append("line")
        .attr("x1", function (d) { return x(d); }).attr("x2", function (d) { return x(d); })
        .attr("y1", p.top).attr("y2", p.bottom);
    grid.selectAll("line.h").data(p.ticks).enter().append("line")
        .attr("x1", left).attr("x2", right)
        .attr("y1", function (d) { return y(d); }).attr("y2", function (d) { return y(d); });

    svg.append("clipPath").attr("id", "clip" + pi).append("rect")
        .attr("x", left).attr("y", p.top).attr("width", right - left).attr("height", p.bottom - p.top);
    var plot = g.append("g").attr("clip-path", "url(#clip" + pi + ")");

    var area = d3.area()
        .x(function (d) { return x(d.t); })
        .y0(function (d) { return y(d.lo); })
        .y1(function (d) { return y(d.hi); });

    p.series.forEach(function (s, k) {
        if (s.hi) {
            var pts = bandT.map(function (t, i) { return { t: t, hi: s.hi[i], lo: s.lo[i] }; });
            var segs = [pts.filter(function (d) { return d.t < 9.5; }), pts.filter(function (d) { return d.t > 9.5; })];
            segs.forEach(function (seg) {
                plot.append("path").datum(seg).attr("d", area)
                    .attr("fill", colors[k]).attr("stroke", colors[k]).attr("stroke-width", 1)
                    .attr("stroke-linejoin", "round");
            });
        }
        plot.append("path")
            .attr("d", s.spikes.map(function (d) { return "M" + x(d[0]) + "," + y(0) + "V" + y(d[1]); }).join(""))
            .attr("fill", "none").attr("stroke", colors[k]).attr("stroke-width", 1.7);
    });

    // axes, ticks pointing inwards
    var yAxis = d3.axisLeft(y).tickValues(p.ticks).tickSizeInner(-5).tickSizeOuter(0).tickPadding(6);
    var ya = g.append("g").attr("transform", "translate(" + left + ",0)").call(yAxis);
    ya.select(".domain").remove();
    ya.selectAll(".tick line").attr("stroke", "#111").attr("stroke-width", 1.2);
    ya.selectAll(".tick text").attr("font-size", 21).attr("font-family", "Liberation Serif").attr("fill", "#222");

    var xAxis = d3.axisBottom(x).tickValues(hourTicks).tickSizeInner(-5).tickSizeOuter(0).tickFormat("");
    var xa = g.append("g").attr("transform", "translate(0," + p.bottom + ")").call(xAxis);
    xa.select(".domain").remove();
    xa.selectAll(".tick line").attr("stroke", "#111").attr("stroke-width", 1.2);

    g.append("rect").attr("x", left).attr("y", p.top).attr("width", right - left).attr("height", p.bottom - p.top)
        .attr("fill", "none").attr("stroke", "#111").attr("stroke-width", 1.4);

    g.append("text")
        .attr("transform", "translate(29," + ((p.top + p.bottom) / 2) + ") rotate(-90)")
        .attr("text-anchor", "middle").attr("dy", "0.35em").attr("font-size", 21)
        .text(p.label);

    if (pi === panels.length - 1) {
        var lab = g.selectAll("text.hour").data(hourTicks).enter().append("text")
            .attr("class", "hour")
            .attr("x", function (d) { return x(d); }).attr("y", p.bottom + 25)
            .attr("text-anchor", "middle").attr("font-size", 21);
        lab.each(function (d, i) {
            var parts = hourLabels[i].split(":");
            var t = d3.select(this);
            t.append("tspan").text(parts[0]);
            t.append("tspan").attr("dx", 4).text(":");
            t.append("tspan").attr("dx", 4).text(parts[1]);
        });
    }
});

svg.append("text").attr("x", (left + right) / 2).attr("y", 649).attr("text-anchor", "middle")
    .attr("font-size", 21).text("时间/h");

// legend
var legend = svg.append("g");
schemes.forEach(function (name, i) {
    var lx = 209 + i * 170;
    legend.append("line").attr("x1", lx).attr("x2", lx + 46).attr("y1", 30).attr("y2", 30)
        .attr("stroke", colors[i]).attr("stroke-width", 2);
    legend.append("text").attr("x", lx + 63).attr("y", 38).attr("font-size", 22).text(name);
});

// light green watermark strokes
var wm = svg.append("g").attr("fill", "none").attr("stroke", "#a6f0a6").attr("stroke-width", 1.3);
wm.append("path").attr("d", "M612,655L763,481L922,655");
wm.append("path").attr("d", "M650,655L738,580L800,645");
wm.append("path").attr("d", "M700,598L757,561L850,655");

</script>
</body>
</html>
